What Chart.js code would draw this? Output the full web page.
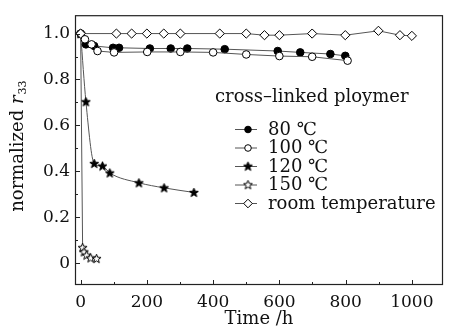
<!DOCTYPE html>
<html lang="en">
<head>
<meta charset="UTF-8">
<title>normalized r33 - cross-linked ploymer</title>
<style>
    html, body {
        margin: 0;
        padding: 0;
        background-color: #fff;
    }
    .chart-box {
        position: relative;
        width: 449px;
        height: 334px;
    }
</style>
<script src="https://cdn.jsdelivr.net/npm/chart.js"></script>
</head>
<body>
<div class="chart-box">
    <canvas id="r33Chart" width="449" height="334"></canvas>
</div>
<script>
// data: time (h) and normalized r33
const t80 = [0, 16, 41, 98, 116, 209, 272, 322, 435, 595, 663, 754, 799];
const r80 = [1.0, 0.953, 0.946, 0.938, 0.938, 0.935, 0.935, 0.935, 0.932, 0.924, 0.918, 0.911, 0.903];

const t100 = [0, 13, 33, 51, 101, 201, 301, 400, 500, 600, 699, 806];
const r100 = [1.0, 0.975, 0.953, 0.924, 0.918, 0.92, 0.92, 0.918, 0.909, 0.902, 0.899, 0.882];

const t120 = [0, 16, 41, 66, 88, 176, 252, 342];
const r120 = [1.0, 0.703, 0.434, 0.423, 0.393, 0.35, 0.328, 0.308];

const t150 = [0, 6, 10, 18, 30, 48];
const r150 = [1.0, 0.068, 0.049, 0.035, 0.023, 0.02];

const tRoom = [0, 108, 154, 200, 251, 301, 420, 500, 555, 600, 699, 799, 899, 964, 1000];
const rRoom = [1.0, 1.0, 1.0, 1.0, 1.0, 1.0, 1.0, 1.0, 0.993, 0.993, 1.0, 0.993, 1.012, 0.993, 0.99];

const seriesNames = ['80 ℃', '100 ℃', '120 ℃', '150 ℃', 'room temperature'];
const legendTitle = 'cross–linked ploymer';

const xTicks = [0, 200, 400, 600, 800, 1000];
const yTicks = [0, 0.2, 0.4, 0.6, 0.8, 1.0];
const xMinor = [100, 300, 500, 700, 900];
const yMinor = [0.1, 0.3, 0.5, 0.7, 0.9];

const FONT = "'DejaVu Serif', serif";

function toPoints(ts, rs) {
    return ts.map((t, i) => ({ x: t, y: rs[i] }));
}

// 5-point star marker
function makeStar(fill) {
    const c = document.createElement('canvas');
    c.width = 11; c.height = 11;
    const g = c.getContext('2d');
    g.beginPath();
    for (let i = 0; i < 10; i++) {
        const r = i % 2 === 0 ? 4.7 : 2.0;
        const a = -Math.PI / 2 + i * Math.PI / 5;
        g.lineTo(5.5 + r * Math.cos(a), 5.8 + r * Math.sin(a));
    }
    g.closePath();
    g.fillStyle = fill;
    g.fill();
    g.lineWidth = 1;
    g.strokeStyle = '#000';
    g.stroke();
    return c;
}
const starFull = makeStar('#000');
const starOpen = makeStar('#fff');

const markers = [
    { style: 'circle', fill: '#000', r: 3.8 },
    { style: 'circle', fill: '#fff', r: 3.8 },
    { style: starFull, fill: '#000', r: 5 },
    { style: starOpen, fill: '#fff', r: 5 },
    { style: 'rectRot', fill: '#fff', r: 4.6 }
];

function makeSet(i, pts, smooth) {
    return {
        label: seriesNames[i],
        data: pts,
        showLine: true,
        borderColor: '#555',
        borderWidth: 1,
        pointStyle: markers[i].style,
        pointRadius: markers[i].r,
        pointBackgroundColor: markers[i].fill,
        pointBorderColor: '#000',
        pointBorderWidth: 1,
        cubicInterpolationMode: smooth ? 'monotone' : 'default',
        tension: 0
    };
}

// frame, inward ticks, y title and legend
const decor = {
    id: 'decor',
    afterDraw(chart) {
        const ctx = chart.ctx;
        const a = chart.chartArea;
        const xs = chart.scales.x, ys = chart.scales.y;
        ctx.save();
        ctx.strokeStyle = '#222';
        ctx.lineWidth = 1.2;
        ctx.strokeRect(a.left + 0.5, a.top + 0.5, a.right - a.left - 1, a.bottom - a.top - 1);

        ctx.lineWidth = 1;
        ctx.beginPath();
        xTicks.forEach(v => { const p = Math.round(xs.getPixelForValue(v)) + 0.5; ctx.moveTo(p, a.bottom); ctx.lineTo(p, a.bottom - 5); });
        xMinor.forEach(v => { const p = Math.round(xs.getPixelForValue(v)) + 0.5; ctx.moveTo(p, a.bottom); ctx.lineTo(p, a.bottom - 3); });
        yTicks.forEach(v => { const p = Math.round(ys.getPixelForValue(v)) + 0.5; ctx.moveTo(a.left, p); ctx.lineTo(a.left + 5, p); });
        yMinor.forEach(v => { const p = Math.round(ys.getPixelForValue(v)) + 0.5; ctx.moveTo(a.left, p); ctx.lineTo(a.left + 3, p); });
        ctx.stroke();

        // y axis title: normalized r33
        ctx.fillStyle = '#111';
        ctx.translate(18, (a.top + a.bottom) / 2 - 4);
        ctx.rotate(-Math.PI / 2);
        ctx.textBaseline = 'middle';
        const f1 = '18px ' + FONT, f2 = 'italic 18px ' + FONT, f3 = '11px ' + FONT;
        ctx.font = f1; const w1 = ctx.measureText('normalized ').width;
        ctx.font = f2; const w2 = ctx.measureText('r').width;
        ctx.font = f3; const w3 = ctx.measureText('33').width;
        let x0 = -(w1 + w2 + w3 + 1) / 2;
        ctx.font = f1; ctx.textAlign = 'left';
        ctx.fillText('normalized ', x0, 0);
        ctx.font = f2; ctx.fillText('r', x0 + w1, 0);
        ctx.font = f3; ctx.fillText('33', x0 + w1 + w2 + 1, 5);
        ctx.restore();

        // legend
        ctx.save();
        ctx.fillStyle = '#111';
        ctx.font = '18px ' + FONT;
        ctx.textBaseline = 'middle';
        ctx.textAlign = 'left';
        ctx.fillText(legendTitle, 215, 97);
        const rows = [129, 147.5, 166, 184.5, 203];
        seriesNames.forEach((name, i) => {
            const y = rows[i];
            ctx.strokeStyle = '#555';
            ctx.lineWidth = 1;
            ctx.beginPath();
            ctx.moveTo(235, y + 0.5); ctx.lineTo(257, y + 0.5);
            ctx.stroke();
            const m = markers[i];
            const cx = 248;
            ctx.strokeStyle = '#000';
            ctx.fillStyle = m.fill;
            if (m.style === 'circle') {
                ctx.beginPath(); ctx.arc(cx, y + 0.5, 3.3, 0, Math.PI * 2); ctx.fill(); ctx.stroke();
            } else if (m.style === 'rectRot') {
                ctx.beginPath();
                ctx.moveTo(cx - 4.3, y + 0.5); ctx.lineTo(cx, y - 3.8); ctx.lineTo(cx + 4.3, y + 0.5); ctx.lineTo(cx, y + 4.8);
                ctx.closePath(); ctx.fill(); ctx.stroke();
            } else {
                ctx.drawImage(m.style, cx - 5.5, y - 5.3);
            }
            ctx.fillStyle = '#111';
            ctx.fillText(name, 268, y + 1);
        });
        ctx.restore();
    }
};

new Chart(document.getElementById('r33Chart'), {
    type: 'scatter',
    data: {
        datasets: [
            makeSet(4, toPoints(tRoom, rRoom), false),
            makeSet(1, toPoints(t100, r100), false),
            makeSet(0, toPoints(t80, r80), false),
            makeSet(2, toPoints(t120, r120), true),
            makeSet(3, toPoints(t150, r150), false)
        ]
    },
    plugins: [decor],
    options: {
        responsive: false,
        animation: false,
        layout: { padding: { top: 15, right: 5, left: 0, bottom: 0 } },
        plugins: {
            legend: { display: false },
            tooltip: { enabled: false }
        },
        scales: {
            x: {
                type: 'linear',
                min: -17,
                max: 1094,
                grid: { display: false, drawTicks: false },
                border: { display: false },
                afterBuildTicks: s => { s.ticks = xTicks.map(v => ({ value: v })); },
                afterFit: s => { s.height = 49; },
                ticks: {
                    padding: 7,
                    color: '#111',
                    font: { family: FONT, size: 17 },
                    maxRotation: 0,
                    callback: v => String(v)
                },
                title: {
                    display: true,
                    text: 'Time /h',
                    color: '#111',
                    font: { family: FONT, size: 18 },
                    padding: { top: 0, bottom: 4 }
                }
            },
            y: {
                type: 'linear',
                min: -0.095,
                max: 1.08,
                grid: { display: false, drawTicks: false },
                border: { display: false },
                afterBuildTicks: s => { s.ticks = yTicks.map(v => ({ value: v })); },
                afterFit: s => { s.width = 75; },
                ticks: {
                    padding: 5,
                    color: '#111',
                    font: { family: FONT, size: 17 },
                    callback: v => v === 0 ? '0' : v.toFixed(1)
                }
            }
        }
    }
});
</script>
</body>
</html>
